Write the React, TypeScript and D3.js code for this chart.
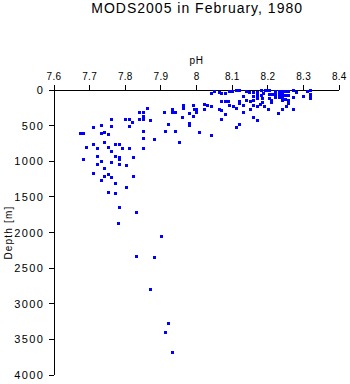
import React from "react";
import * as d3 from "d3";

const title = "MODS2005 in February, 1980";
const xLabel = "pH";
const yLabel = "Depth [m]";
const xTicks = [7.6, 7.7, 7.8, 7.9, 8.0, 8.1, 8.2, 8.3, 8.4];
const yTicks = [0, 500, 1000, 1500, 2000, 2500, 3000, 3500, 4000];

const phValues = [
  7.862, 7.838, 7.85, 7.85, 7.85, 7.839, 7.87, 7.908, 7.931, 7.931,
  7.94, 7.961, 7.961, 7.991, 7.993, 7.999, 7.979, 7.999, 7.991, 7.96,
  7.979, 7.979, 7.921, 7.91, 7.94, 8.007, 7.951, 7.85, 7.85, 7.881,
  7.85, 7.76, 7.8, 7.811, 7.82, 7.811, 7.71, 7.732, 7.76, 7.672,
  7.681, 7.731, 7.741, 7.751, 7.71, 7.741, 7.691, 7.721, 7.751, 7.772,
  7.781, 7.761, 7.792, 7.811, 7.721, 7.772, 7.781, 7.781, 7.681, 7.732,
  7.761, 7.821, 7.721, 7.741, 7.781, 7.801, 7.71, 7.751, 7.741, 7.761,
  7.821, 7.732, 7.772, 7.801, 7.751, 7.772, 7.781, 7.831, 7.78, 7.901,
  7.831, 7.881, 7.87, 7.921, 7.91, 7.932,
  8.039, 8.049, 8.062, 8.069, 8.08, 8.092, 8.1, 8.11, 8.12, 8.138,
  8.148, 8.159, 8.159, 8.159, 8.168, 8.17, 8.17, 8.18, 8.18, 8.183,
  8.183, 8.187, 8.193, 8.202, 8.202, 8.202, 8.209, 8.209, 8.211, 8.221,
  8.219, 8.219, 8.23, 8.23, 8.23, 8.238, 8.238, 8.238, 8.238, 8.248,
  8.248, 8.248, 8.257, 8.257, 8.257, 8.257, 8.251, 8.269, 8.269, 8.279,
  8.299, 8.309, 8.319, 8.319, 8.319, 8.178, 8.189, 8.17, 8.159, 8.15,
  8.139, 8.131, 8.12, 8.12, 8.131, 8.11, 8.101, 8.092, 8.089, 8.08,
  8.069, 8.062, 8.069, 8.08, 8.069, 8.021, 8.03, 8.041, 8.021, 8.11,
  8.12, 8.131, 8.15, 8.159, 8.17, 8.2, 8.229, 8.239, 8.269, 8.041, 8.197, 8.319,
];

const depthValues = [
  257, 309, 309, 365, 411, 411, 425, 309, 262, 309,
  309, 215, 253, 206, 262, 262, 319, 309, 365, 383,
  459, 491, 481, 580, 580, 585, 734, 580, 669, 692,
  821, 407, 407, 403, 449, 509, 519, 491, 509, 604,
  604, 599, 594, 613, 758, 734, 796, 810, 804, 762,
  762, 860, 810, 810, 931, 931, 940, 964, 973, 1001,
  1006, 945, 1043, 1099, 1043, 1057, 1165, 1179, 1207, 1225,
  1207, 1263, 1309, 1366, 1436, 1441, 1646, 1716, 1871, 2053,
  2334, 2348, 2797, 3270, 3401, 3673,
  46, 21, 24, 45, 42, 11, 17, 7, 7, 11,
  25, 28, 80, 145, 24, 70, 112, 70, 7, 116,
  173, 46, 7, 7, 63, 116, 136, 173, 56, 10,
  63, 98, 14, 63, 102, 21, 63, 105, 140, 21,
  70, 133, 21, 77, 136, 182, 220, 7, 98, 35,
  81, 21, 7, 60, 116, 192, 222, 225, 215, 159,
  145, 84, 161, 182, 208, 255, 225, 204, 154, 154,
  157, 260, 284, 330, 400, 201, 206, 218, 260, 526,
  480, 309, 267, 372, 424, 269, 316, 269, 269, 636, 4, 88,
];

const W = 350;
const H = 384;
const left = 54;
const right = 339.3;
const top = 90;
const bottom = 375;

export default function App() {
  const x = d3.scaleLinear().domain([7.6, 8.4]).range([left, right]);
  const y = d3.scaleLinear().domain([0, 4000]).range([top, bottom]);
  const font = "'Liberation Sans', Arial, Helvetica, sans-serif";
  const points = phValues.map((p, i) => ({ p, d: depthValues[i] }));
  const cx = (left + right) / 2;

  return (
    <svg
      width={W}
      height={H}
      style={{ position: "absolute", left: 0, top: 0, background: "#fff" }}
      fontFamily={font}
    >
      <rect x={0} y={0} width={W} height={H} fill="#fff" />
      <text x={cx + 0.5} y={12.5} textAnchor="middle" fontSize={14} fill="#000" style={{ letterSpacing: "1px" }}>
        {title}
      </text>
      <text x={cx} y={64} textAnchor="middle" fontSize={10} fill="#000" style={{ letterSpacing: "0.8px" }}>
        {xLabel}
      </text>
      {/* x axis */}
      <line x1={left} x2={right} y1={top} y2={top} stroke="#000" strokeWidth={1} shapeRendering="crispEdges" />
      {xTicks.map((t) => (
        <g key={"xt" + t}>
          <line x1={x(t)} x2={x(t)} y1={top} y2={top - 5} stroke="#000" shapeRendering="crispEdges" />
          <text x={x(t)} y={80} textAnchor="middle" fontSize={10} fill="#000" style={{ letterSpacing: "0.3px" }}>
            {d3.format("~g")(t)}
          </text>
        </g>
      ))}
      {/* y axis */}
      <line x1={left} x2={left} y1={top} y2={bottom} stroke="#000" strokeWidth={1} shapeRendering="crispEdges" />
      {yTicks.map((t) => (
        <g key={"yt" + t}>
          <line x1={left - 5} x2={left} y1={y(t)} y2={y(t)} stroke="#000" shapeRendering="crispEdges" />
          <text
            x={44.4}
            y={y(t) + 4}
            textAnchor="end"
            fontSize={11}
            fill="#000"
            style={{ letterSpacing: "1.4px" }}
          >
            {t}
          </text>
        </g>
      ))}
      <text
        transform={`translate(12, ${(top + bottom) / 2}) rotate(-90)`}
        textAnchor="middle"
        fontSize={10}
        fill="#000"
        style={{ letterSpacing: "1.2px" }}
      >
        {yLabel}
      </text>
      {points.map((pt, i) => (
        <rect
          key={i}
          x={Math.round(x(pt.p)) - 1.5}
          y={Math.round(y(pt.d)) - 1.5}
          width={3}
          height={3}
          fill="#0000ff"
          shapeRendering="crispEdges"
        />
      ))}
    </svg>
  );
}
